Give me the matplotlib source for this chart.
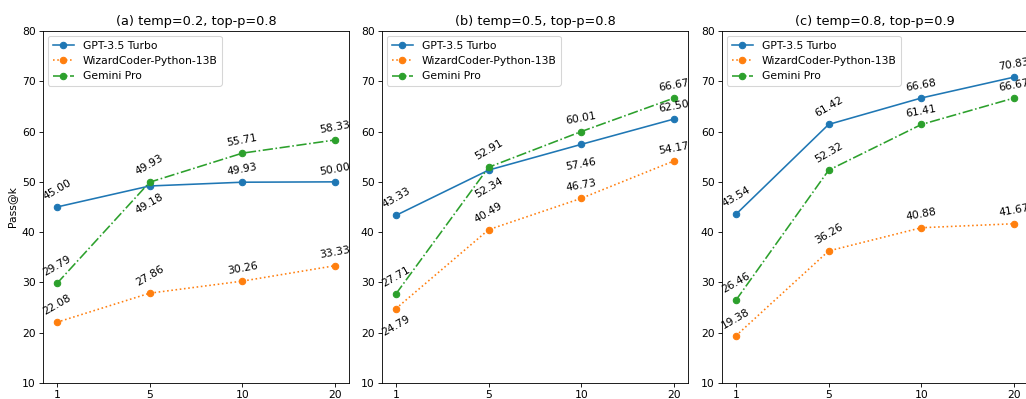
import matplotlib
matplotlib.use('Agg')
from matplotlib import pyplot as plt

k_labels = ['1', '5', '10', '20']
titles = ['(a) temp=0.2, top-p=0.8', '(b) temp=0.5, top-p=0.8', '(c) temp=0.8, top-p=0.9']
models = ['GPT-3.5 Turbo', 'WizardCoder-Python-13B', 'Gemini Pro']

gpt = [[45.00, 49.18, 49.93, 50.00],
       [43.33, 52.34, 57.46, 62.50],
       [43.54, 61.42, 66.68, 70.83]]
wizard = [[22.08, 27.86, 30.26, 33.33],
          [24.79, 40.49, 46.73, 54.17],
          [19.38, 36.26, 40.88, 41.67]]
gemini = [[29.79, 49.93, 55.71, 58.33],
          [27.71, 52.91, 60.01, 66.67],
          [26.46, 52.32, 61.41, 66.67]]

# which labels go under the point (panel, model, index)
below = {(0, 0, 1), (1, 0, 1), (1, 0, 2), (1, 1, 0)}

styles = ['-o', ':o', '-.o']
colors = ['#1f77b4', '#ff7f0e', '#2ca02c']
rotations = [30, 30, 10, 10]

# the reference looks like a downscaled render, so draw at a lower dpi
DPI = 77
fig = plt.figure(figsize=(1026 / DPI, 399 / DPI), dpi=DPI)
lefts = [43 / 1026, 382 / 1026, 722 / 1026]

for p in range(3):
    ax = fig.add_axes([lefts[p], 16 / 399, 306 / 1026, 352 / 399])
    x = list(range(len(k_labels)))
    series = [gpt[p], wizard[p], gemini[p]]
    for m in range(3):
        ax.plot(x, series[m], styles[m], color=colors[m], label=models[m])
        for i, v in enumerate(series[m]):
            if (p, m, i) in below:
                off = -12 if (p, m, i) == (1, 0, 2) else -5
                ax.annotate(f'{v:.2f}', (i, v), xytext=(0, off), textcoords='offset points',
                            ha='center', va='top', rotation=rotations[i], fontsize=10)
            else:
                ax.annotate(f'{v:.2f}', (i, v), xytext=(0, 5), textcoords='offset points',
                            ha='center', va='bottom', rotation=rotations[i], fontsize=10)
    ax.set_xticks(x)
    ax.set_xticklabels(k_labels)
    ax.set_ylim(10, 80)
    ax.set_title(titles[p])
    ax.legend(loc='upper left')
    if p == 0:
        ax.set_ylabel('Pass@k')

plt.savefig('out.png', dpi=DPI)
